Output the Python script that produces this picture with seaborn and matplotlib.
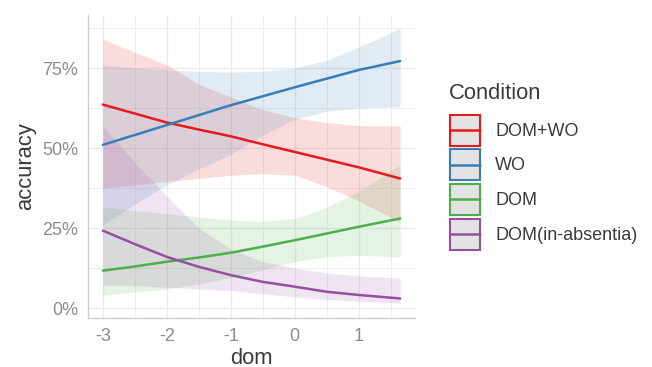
import numpy as np
import pandas as pd
import matplotlib
matplotlib.use("Agg")
import matplotlib.pyplot as plt
import seaborn as sns
from matplotlib.patches import Rectangle
from matplotlib.lines import Line2D
from matplotlib.legend_handler import HandlerBase
from matplotlib.ticker import FixedLocator

# ---------------- data ----------------
dom = [-3, -2.5, -2, -1.5, -1, -0.5, 0, 0.5, 1, 1.65]
conditions = ["DOM+WO", "WO", "DOM", "DOM(in-absentia)"]
colors = ["#E41A1C", "#377EB8", "#4DAF4A", "#984EA3"]

fit_dom_wo = [0.636, 0.608, 0.580, 0.558, 0.537, 0.512, 0.488, 0.464, 0.440, 0.405]
lo_dom_wo = [0.375, 0.385, 0.395, 0.405, 0.415, 0.420, 0.415, 0.380, 0.335, 0.268]
hi_dom_wo = [0.840, 0.800, 0.760, 0.700, 0.660, 0.620, 0.595, 0.580, 0.570, 0.570]

fit_wo = [0.510, 0.541, 0.572, 0.603, 0.634, 0.662, 0.690, 0.717, 0.744, 0.772]
lo_wo = [0.260, 0.325, 0.385, 0.435, 0.480, 0.540, 0.590, 0.615, 0.625, 0.630]
hi_wo = [0.760, 0.750, 0.745, 0.740, 0.737, 0.740, 0.750, 0.775, 0.815, 0.875]

fit_dom = [0.117, 0.130, 0.145, 0.158, 0.173, 0.192, 0.212, 0.233, 0.254, 0.280]
lo_dom = [0.040, 0.050, 0.060, 0.075, 0.095, 0.120, 0.145, 0.160, 0.165, 0.160]
hi_dom = [0.316, 0.305, 0.295, 0.285, 0.275, 0.270, 0.280, 0.315, 0.365, 0.447]

fit_abs = [0.242, 0.200, 0.160, 0.129, 0.103, 0.082, 0.067, 0.051, 0.041, 0.030]
lo_abs = [0.072, 0.070, 0.065, 0.060, 0.055, 0.045, 0.035, 0.027, 0.021, 0.016]
hi_abs = [0.570, 0.455, 0.350, 0.250, 0.185, 0.145, 0.125, 0.110, 0.100, 0.094]

x_ticks = [-3, -2, -1, 0, 1]
y_ticks = [0, 0.25, 0.5, 0.75]
y_tick_labels = ["0%", "25%", "50%", "75%"]

fits = [fit_dom_wo, fit_wo, fit_dom, fit_abs]
los = [lo_dom_wo, lo_wo, lo_dom, lo_abs]
his = [hi_dom_wo, hi_wo, hi_dom, hi_abs]

df = pd.concat(
    [pd.DataFrame({"dom": dom, "accuracy": f, "lo": l, "hi": h, "Condition": c})
     for f, l, h, c in zip(fits, los, his, conditions)],
    ignore_index=True,
)

# ---------------- style ----------------
sns.set_theme(style="white")
plt.rcParams["font.family"] = ["Liberation Sans", "DejaVu Sans"]

fig = plt.figure(figsize=(6.52, 3.67), dpi=100)
ax = fig.add_axes([88 / 652, 1 - 318 / 367, (415 - 88) / 652, (318 - 15) / 367])

for c, col in zip(conditions, colors):
    sub = df[df["Condition"] == c]
    ax.fill_between(sub["dom"], sub["lo"], sub["hi"], color=col, alpha=0.15,
                    linewidth=0, zorder=2)

sns.lineplot(data=df, x="dom", y="accuracy", hue="Condition", hue_order=conditions,
             palette=colors, linewidth=1.8, ax=ax, legend=False, zorder=3)

xmin, xmax = min(dom), max(dom)
xr = xmax - xmin
ax.set_xlim(xmin - 0.05 * xr, xmax + 0.05 * xr)
ax.set_ylim(-0.031, 0.916)

ax.xaxis.set_major_locator(FixedLocator(x_ticks))
ax.xaxis.set_minor_locator(FixedLocator([-2.5, -1.5, -0.5, 0.5, 1.5]))
ax.yaxis.set_major_locator(FixedLocator(y_ticks))
ax.yaxis.set_minor_locator(FixedLocator([0.125, 0.375, 0.625, 0.875]))
ax.set_yticklabels(y_tick_labels)
ax.set_xticklabels([f"{t}" for t in x_ticks])

ax.grid(which="major", color="#EBEBEB", linewidth=1.0, zorder=0)
ax.grid(which="minor", color="#EFEFEF", linewidth=0.8, zorder=0)
ax.set_axisbelow(True)

for s in ["top", "right"]:
    ax.spines[s].set_visible(False)
for s in ["left", "bottom"]:
    ax.spines[s].set_color("#CFCFCF")
    ax.spines[s].set_linewidth(1.0)

ax.tick_params(which="both", length=0, pad=7, labelsize=13, labelcolor="#8C8C8C")
ax.set_xlabel("dom", fontsize=15.8, color="#3A3A3A", labelpad=2)
ax.set_ylabel("accuracy", fontsize=15.8, color="#3A3A3A", labelpad=4)


class KeyHandler(HandlerBase):
    def create_artists(self, legend, orig_handle, xdescent, ydescent, width,
                       height, fontsize, trans):
        col = orig_handle.get_color()
        r = Rectangle((-xdescent + 0.75, -ydescent + 0.75), width - 1.5, height - 1.5,
                      facecolor="#E3E3E3", edgecolor=col, linewidth=1.5,
                      transform=trans)
        y = -ydescent + height / 2
        ln = Line2D([-xdescent + 1, -xdescent + width - 1], [y, y], color=col,
                    linewidth=1.8, transform=trans)
        return [r, ln]


handles = [Line2D([], [], color=col) for col in colors]
leg = fig.legend(handles, conditions, title="Condition", loc="upper left",
                 bbox_to_anchor=(449 / 652, 1 - 83 / 367), frameon=False,
                 fontsize=13, title_fontsize=15.8, handlelength=1.78,
                 handleheight=2.435, labelspacing=0.09, handletextpad=0.78,
                 borderpad=0, borderaxespad=0, alignment="left",
                 handler_map={Line2D: KeyHandler()})
leg._legend_box.sep = 7.0
for t in leg.get_texts():
    t.set_color("#3A3A3A")
leg.get_title().set_color("#3A3A3A")

fig.savefig("out.png", dpi=100)
